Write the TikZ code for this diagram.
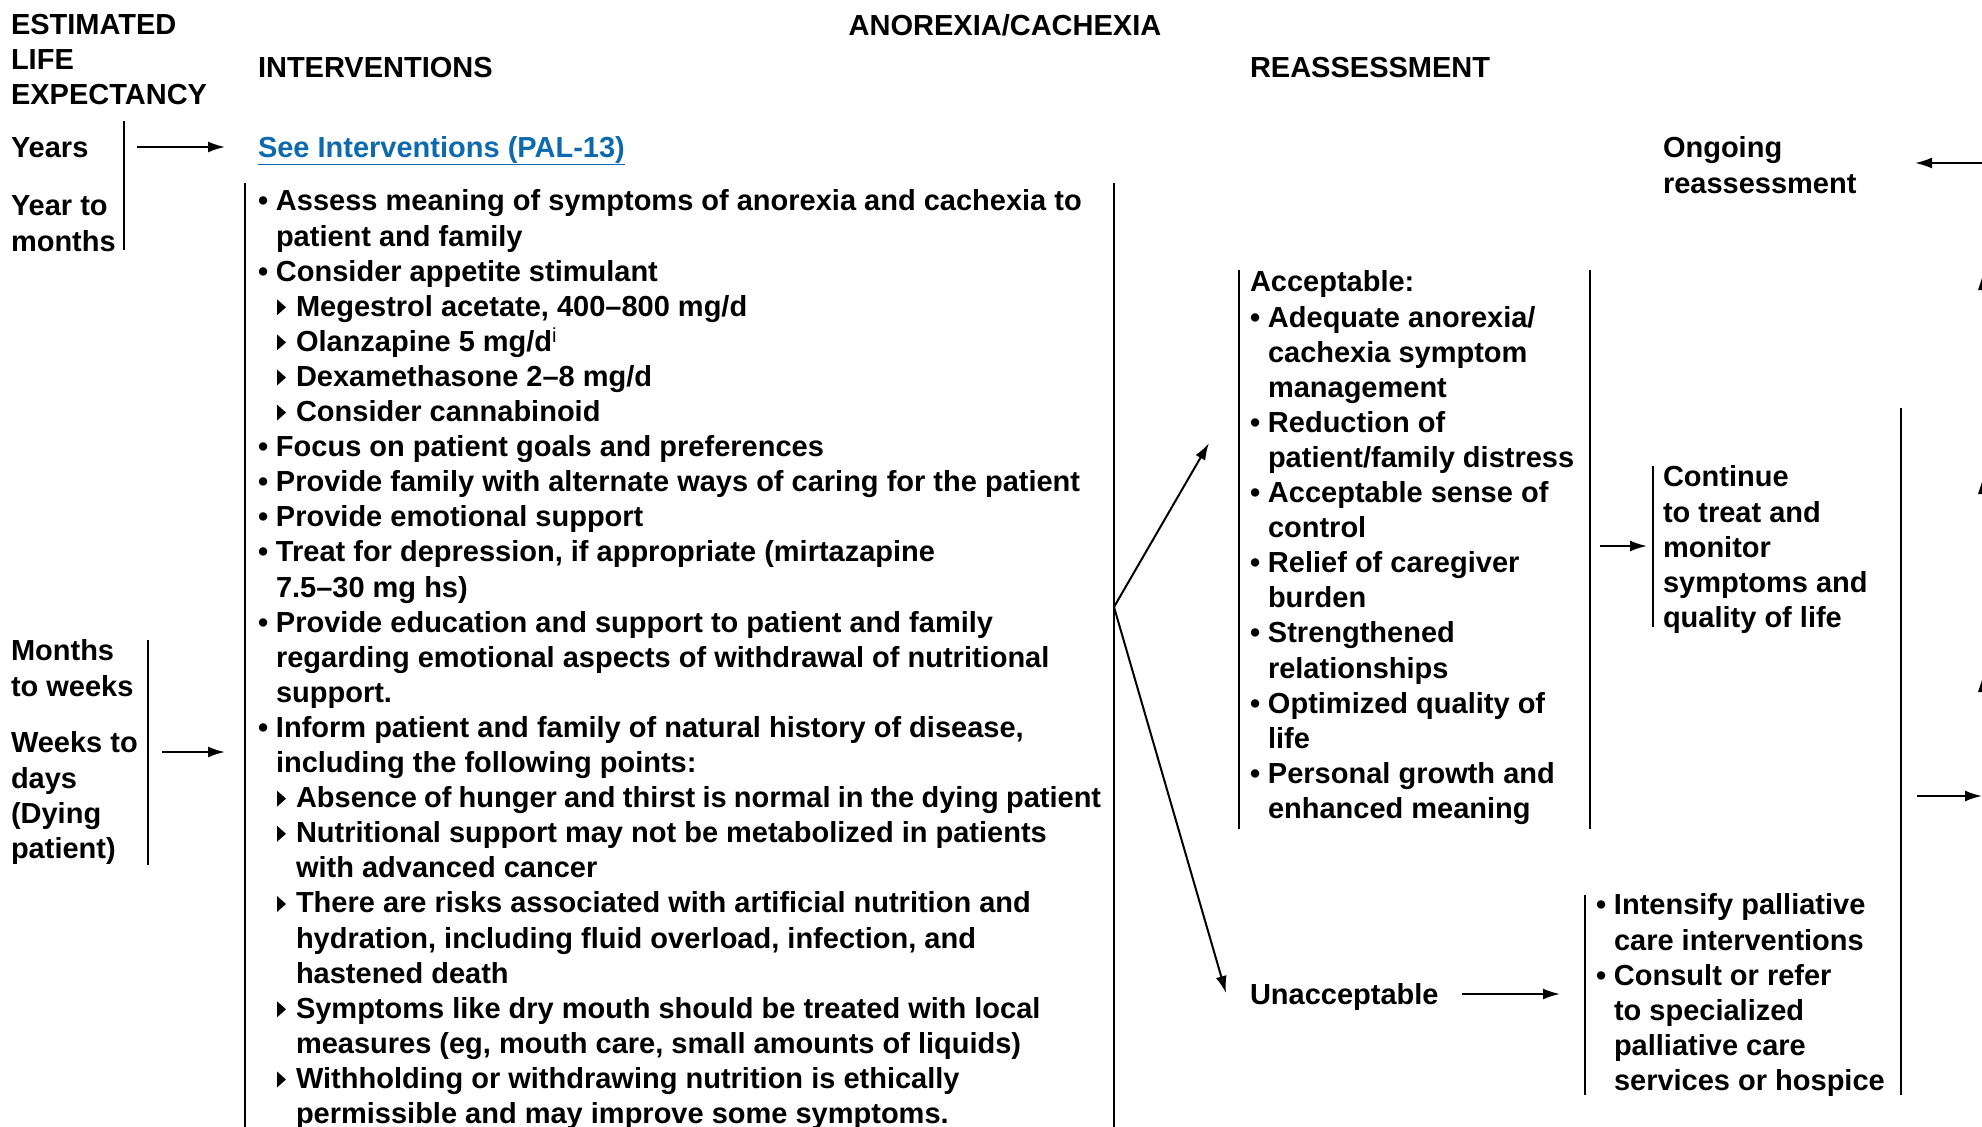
\documentclass[tikz,border=0pt]{standalone}
\usepackage{fontspec}
\setmainfont{Liberation Sans}
\usetikzlibrary{arrows.meta}
\definecolor{linkblue}{RGB}{14,106,175}
\newcommand\bl{\makebox[18pt][l]{•}}
\newcommand\ia{\hspace*{18pt}}
\newcommand\ib{\hspace*{38pt}}
\newcommand\tri{\makebox[19pt][l]{\tikz[x=1pt,y=1pt,baseline=0pt]\fill (0,1)--(0,17)--(9,9)--cycle;}}
\newcommand\subb{\hspace*{19pt}\tri}
\begin{document}
\begin{tikzpicture}[x=1pt,y=-1pt,
  txt/.style={anchor=north west,inner sep=0pt,outer sep=0pt,align=left,
    font=\fontsize{29}{35.1}\selectfont\bfseries},
  one/.style={anchor=base west,inner sep=0pt,outer sep=0pt,
    font=\fontsize{29}{35.1}\selectfont\bfseries},
  rule/.style={line width=2.4pt},
  arr/.style={line width=2pt,-{Latex[length=17pt,width=11pt]}}]
\useasboundingbox (0,0) rectangle (1982,1127);
\clip (0,0) rectangle (1982,1127);
% headers
\node[txt] (est) at (11,9.8) {\strut ESTIMATED\\LIFE\\EXPECTANCY};
\node[one,anchor=base] (title) at (1005,35) {ANOREXIA/CACHEXIA};
\node[one] (hint) at (258,77) {INTERVENTIONS};
\node[one] (hreas) at (1250,77) {REASSESSMENT};
% life expectancy
\node[one] (years) at (11,157) {Years};
\node[txt] (yearto) at (11,191.4) {\strut Year to\\months};
\node[txt] (months) at (11,636.4) {\strut Months\\to weeks};
\node[txt] (weeks) at (11,728.4) {\strut Weeks to\\days\\(Dying\\patient)};
\draw[rule] (124,121) -- (124,250);
\draw[rule] (148,640) -- (148,865);
% interventions
\node[one,text=linkblue] (see) at (258,157) {\underline{See Interventions (PAL-13)}};
\node[txt] (interv) at (258,186.4) {\strut\bl Assess meaning of symptoms of anorexia and cachexia to\\
\ia patient and family\\
\bl Consider appetite stimulant\\
\subb Megestrol acetate, 400–800 mg/d\\
\subb Olanzapine 5 mg/d\textsuperscript{\mdseries i}\\
\subb Dexamethasone 2–8 mg/d\\
\subb Consider cannabinoid\\
\bl Focus on patient goals and preferences\\
\bl Provide family with alternate ways of caring for the patient\\
\bl Provide emotional support\\
\bl Treat for depression, if appropriate (mirtazapine\\
\ia 7.5–30 mg hs)\\
\bl Provide education and support to patient and family\\
\ia regarding emotional aspects of withdrawal of nutritional\\
\ia support.\\
\bl Inform patient and family of natural history of disease,\\
\ia including the following points:\\
\subb {\spaceskip=7.2pt Absence of hunger and thirst is normal in the dying patient}\\
\subb Nutritional support may not be metabolized in patients\\
\ib with advanced cancer\\
\subb There are risks associated with artificial nutrition and\\
\ib hydration, including fluid overload, infection, and\\
\ib hastened death\\
\subb Symptoms like dry mouth should be treated with local\\
\ib measures (eg, mouth care, small amounts of liquids)\\
\subb Withholding or withdrawing nutrition is ethically\\
\ib permissible and may improve some symptoms.};
\draw[rule] (245,183) -- (245,1127);
\draw[rule] (1114,183) -- (1114,1127);
% reassessment
\node[txt] (accept) at (1250,267.4) {\strut Acceptable:\\
\bl Adequate anorexia/\\
\ia cachexia symptom\\
\ia management\\
\bl Reduction of\\
\ia patient/family distress\\
\bl Acceptable sense of\\
\ia control\\
\bl Relief of caregiver\\
\ia burden\\
\bl Strengthened\\
\ia relationships\\
\bl Optimized quality of\\
\ia life\\
\bl Personal growth and\\
\ia enhanced meaning};
\draw[rule] (1239,270) -- (1239,829);
\draw[rule] (1590,270) -- (1590,829);
\node[one] (unacc) at (1250,1004) {Unacceptable};
\node[txt] (cont) at (1663,462.4) {\strut Continue\\to treat and\\monitor\\symptoms and\\quality of life};
\draw[rule] (1653,466) -- (1653,627);
\node[txt] (intens) at (1596,890.4) {\strut\bl Intensify palliative\\
\ia care interventions\\
\bl Consult or refer\\
\ia to specialized\\
\ia palliative care\\
\ia services or hospice};
\draw[rule] (1585,895) -- (1585,1095);
\draw[rule] (1901,408) -- (1901,1095);
\node[txt] (ongoing) at (1663,133.4) {\strut Ongoing\\reassessment};
% connectors
\coordinate (yA) at (137,147); \coordinate (yB) at (225,147);
\draw[arr] (yA) -- (yB);
\coordinate (wA) at (162,752); \coordinate (wB) at (225,752);
\draw[arr] (wA) -- (wB);
\coordinate (br) at (1114,607);
\coordinate (brU) at (1209,443);
\coordinate (brD) at (1226,993);
\draw[arr] (br) -- (brU);
\draw[arr] (br) -- (brD);
\coordinate (cA) at (1600,546); \coordinate (cB) at (1647,546);
\draw[arr] (cA) -- (cB);
\coordinate (uA) at (1462,994); \coordinate (uB) at (1560,994);
\draw[arr] (uA) -- (uB);
\coordinate (oA) at (1990,163); \coordinate (oB) at (1915,163);
\draw[arr] (oA) -- (oB);
\coordinate (rA) at (1917,796); \coordinate (rB) at (1982,796);
\draw[arr] (rA) -- (rB);
% arrowheads cut at the right edge
\foreach \ty in {272,476,674}{
  \fill (1978,\ty+18) -- (1984,\ty) -- (1990,\ty+18) -- cycle;
}
\end{tikzpicture}
\end{document}
